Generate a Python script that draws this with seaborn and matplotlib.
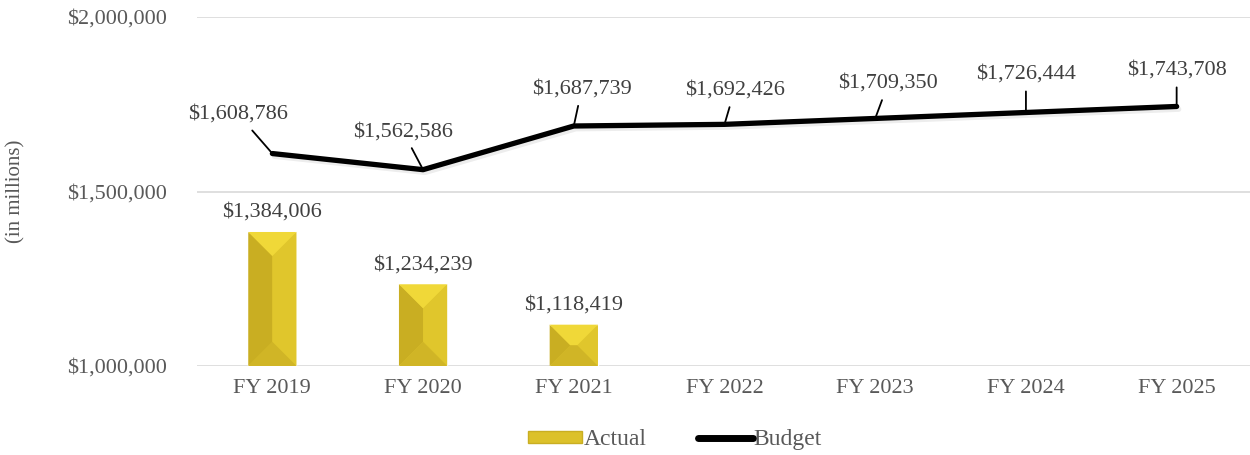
import numpy as np
import pandas as pd
import seaborn as sns
import matplotlib.pyplot as plt
from matplotlib.patches import Polygon, Rectangle
from matplotlib.lines import Line2D
import matplotlib.patheffects as pe

sns.set_style("white")
plt.rcParams['font.family'] = ['Liberation Serif', 'DejaVu Serif']

# data
years = ["FY 2019", "FY 2020", "FY 2021", "FY 2022", "FY 2023", "FY 2024", "FY 2025"]
actual = [1384006, 1234239, 1118419, np.nan, np.nan, np.nan, np.nan]
budget = [1608786, 1562586, 1687739, 1692426, 1709350, 1726444, 1743708]

# label offsets for budget labels (pixels, dx, dy)
budget_offsets = [(-34, 39), (-20, 38), (8, 37), (10, 34), (13, 35), (0, 38), (0, 36)]

df = pd.DataFrame({"year": years, "actual": actual, "budget": budget})

fig = plt.figure(figsize=(12.5, 4.55), dpi=100)
ax = fig.add_axes([0.1576, 0.1956, 0.8440, 0.767])

gold = "#DCC12A"
sns.barplot(data=df, x="year", y="actual", color=gold, width=0.32,
            saturation=1, ax=ax, zorder=2)
ax.set_ylim(1000000, 2000000)
ax.set_xlim(-0.5, 6.5)

# line
x_pos = np.arange(len(years))
sns.lineplot(x=x_pos, y=df["budget"], color="black", linewidth=3.8, ax=ax,
             zorder=4, solid_capstyle="round",
             path_effects=[pe.SimpleLineShadow(offset=(1.5, -2), alpha=0.07, shadow_color="black"),
                           pe.Normal()])

# bevel effect on bars
fig.canvas.draw()
ymin = ax.get_ylim()[0]
inv = ax.transData.inverted()
for p in list(ax.patches):
    h = p.get_height()
    if np.isnan(h):
        continue
    x0 = p.get_x()
    w = p.get_width()
    (px0, pyb), (px1, pyt) = ax.transData.transform([(x0, max(p.get_y(), ymin)), (x0 + w, p.get_y() + h)])
    d = (px1 - px0) / 2.0
    d = min(d, (pyt - pyb) / 2.0)
    def poly(pts, c):
        dpts = inv.transform(pts)
        ax.add_patch(Polygon(dpts, closed=True, facecolor=c, edgecolor="none", zorder=3))
    # left face
    poly([(px0, pyb), (px0 + d, pyb + d), (px0 + d, pyt - d), (px0, pyt)], "#C9AE22")
    # right face
    poly([(px1, pyb), (px1 - d, pyb + d), (px1 - d, pyt - d), (px1, pyt)], "#E0C62C")
    # top
    poly([(px0, pyt), (px1, pyt), (px1 - d, pyt - d), (px0 + d, pyt - d)], "#F0D838")
    # bottom
    poly([(px0, pyb), (px1, pyb), (px1 - d, pyb + d), (px0 + d, pyb + d)], "#D0B526")
    # bar labels
    ax.annotate(f"${h:,.0f}", (x0 + w / 2, p.get_y() + h), xytext=(0, 10),
                textcoords="offset pixels", ha="center", va="bottom",
                fontsize=16, color="#404040")

for i, v in enumerate(budget):
    dx, dy = budget_offsets[i]
    ax.annotate(f"${v:,.0f}", (i, v), xytext=(dx, dy), textcoords="offset pixels",
                ha="center", va="center", fontsize=16, color="#404040",
                arrowprops=dict(arrowstyle="-", color="black", lw=1.3,
                                shrinkA=3, shrinkB=0))

# axes styling
ax.set_yticks([1000000, 1500000, 2000000])
ax.set_yticklabels([f"${t:,.0f}" for t in [1000000, 1500000, 2000000]])
ax.yaxis.grid(True, color="#D9D9D9", linewidth=1.2)
ax.set_axisbelow(True)
for s in ax.spines.values():
    s.set_visible(False)
ax.tick_params(axis="both", length=0, labelsize=16, colors="#595959", pad=9)
ax.tick_params(axis="y", pad=22)
ax.set_xlabel("")
ax.set_ylabel("")
fig.text(0.013, 0.58, "(in millions)", rotation=90, ha="center", va="center",
         fontsize=15, color="#595959")

handles = [Rectangle((0, 0), 1, 1, facecolor=gold, edgecolor="#C9AE22"),
           Line2D([0], [0], color="black", linewidth=5, solid_capstyle="round")]
fig.legend(handles, ["Actual", "Budget"], loc="center", bbox_to_anchor=(0.54, 0.033),
           ncol=2, frameon=False, fontsize=17, handlelength=2.3, handleheight=0.45,
           handletextpad=0.05, columnspacing=2.2, labelcolor="#595959")

fig.savefig("out.png", dpi=100)
